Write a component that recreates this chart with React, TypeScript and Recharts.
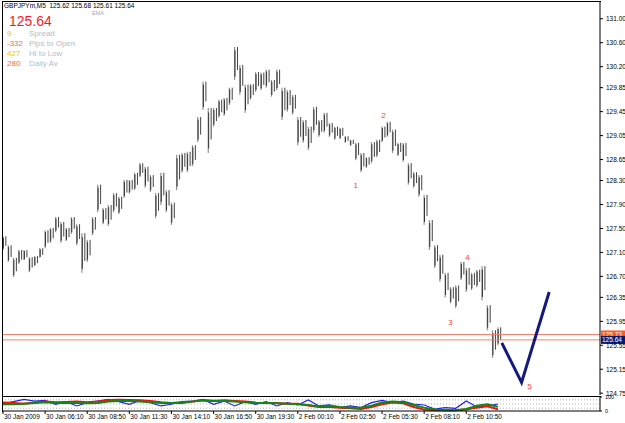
import React from "react";
import {
  ComposedChart,
  Bar,
  Line,
  Scatter,
  XAxis,
  YAxis,
  ReferenceLine,
} from "recharts";

// one plotted bar per 4 M5 bars
const BAR_STEP = 4;
const barHigh = [
  127.37, 127.22, 127.01, 127.14, 127.14, 127.02, 127.04, 127.17, 127.47, 127.51,
  127.69, 127.61, 127.51, 127.69, 127.57, 127.42, 127.31, 127.69, 128.23, 127.84,
  127.89, 128.09, 128.03, 128.31, 128.31, 128.43, 128.59, 128.53, 128.39, 128.09,
  128.43, 128.14, 127.93, 128.73, 128.76, 128.78, 128.89, 129.36, 129.95, 129.51,
  129.51, 129.65, 129.68, 129.85, 130.53, 130.23, 129.9, 129.91, 130.11, 130.1,
  130.15, 129.98, 130.15, 129.85, 129.81, 129.73, 129.36, 129.31, 129.2, 129.53,
  129.31, 129.43, 129.26, 129.2, 129.18, 129.04, 128.98, 128.93, 128.76, 128.69,
  128.94, 128.98, 129.2, 129.28, 129.15, 128.93, 128.93, 128.59, 128.44, 128.39,
  128.06, 127.64, 127.22, 127.06, 126.76, 126.52, 126.55, 126.94, 126.84, 126.76,
  126.81, 126.87, 126.22, 125.8, 125.85,
];
const barLow = [
  127.14, 126.94, 126.69, 126.91, 126.97, 126.77, 126.87, 127.01, 127.17, 127.26,
  127.44, 127.26, 127.29, 127.41, 127.22, 126.76, 126.94, 127.39, 127.77, 127.57,
  127.54, 127.77, 127.74, 128.01, 128.08, 128.14, 128.36, 128.18, 128.11, 127.67,
  127.89, 127.77, 127.56, 128.14, 128.43, 128.44, 128.54, 128.94, 129.48, 128.76,
  129.2, 129.35, 129.38, 129.56, 129.98, 129.73, 129.43, 129.65, 129.78, 129.81,
  129.85, 129.7, 129.81, 129.31, 129.45, 129.4, 128.89, 128.93, 128.81, 129.1,
  129.03, 129.1, 129.03, 128.98, 128.99, 128.93, 128.88, 128.64, 128.44, 128.51,
  128.59, 128.69, 128.94, 129.03, 128.76, 128.71, 128.61, 128.23, 128.18, 128.03,
  127.56, 127.14, 126.84, 126.61, 126.35, 126.25, 126.17, 126.64, 126.44, 126.47,
  126.52, 126.3, 125.8, 125.34, 125.55,
];

const priceTicks = [
  124.75, 125.15, 125.55, 125.95, 126.35, 126.7, 127.1, 127.5, 127.9, 128.3,
  128.65, 129.05, 129.45, 129.85, 130.2, 130.6, 131.0,
];

const timeTicks = [0, 32, 64, 96, 128, 160, 192, 224, 256, 288, 320, 352];
const timeLabels = [
  "30 Jan 2009", "30 Jan 06:10", "30 Jan 08:50", "30 Jan 11:30",
  "30 Jan 14:10", "30 Jan 16:50", "30 Jan 19:30", "2 Feb 00:10",
  "2 Feb 02:50", "2 Feb 05:30", "2 Feb 08:10", "2 Feb 10:50",
];

// projected wave 5
const waveIdx = [379, 394, 415];
const wavePrice = [125.59, 124.93, 126.44];

const waveLabels = ["1", "2", "3", "4", "5"];
const waveLabelIdx = [268, 289, 340, 353, 400];
const waveLabelPrice = [128.23, 129.4, 125.94, 127.02, 124.87];

const askPrice = 125.73;
const bidPrice = 125.64;

// stochastic pane, one point per 8 M5 bars
const STOCH_STEP = 8;
const stochMain = [
  52, 67, 83, 71, 76, 48, 67, 36, 60, 71, 83, 67, 48, 76, 60, 36, 48, 67, 71, 83,
  48, 71, 36, 67, 48, 67, 36, 60, 43, 79, 36, 43, 24, 36, 24, 60, 76, 60, 71, 50,
  43, 14, 24, 19, 71, 29, 36, 50,
];
const stochSignal = [
  60, 57, 52, 60, 67, 62, 64, 67, 62, 67, 79, 81, 79, 76, 71, 62, 57, 57, 67, 76,
  71, 76, 71, 67, 60, 57, 57, 52, 52, 40, 29, 29, 24, 19, 14, 29, 48, 60, 55, 29,
  10, 5, 5, 5, 10, 24, 33, 12,
];
const stochSlow = [
  48, 48, 52, 57, 62, 57, 57, 57, 55, 57, 67, 71, 71, 67, 62, 57, 57, 62, 67, 76,
  74, 71, 67, 62, 57, 57, 55, 52, 48, 42, 33, 38, 29, 24, 24, 38, 60, 67, 62, 43,
  24, 10, 5, 5, 14, 38, 48, 30,
];

const X_MAX = 453.6;
const FONT = "'Liberation Sans', Arial, sans-serif";

const bars = barHigh.map((h, i) => ({ idx: i * BAR_STEP, range: [barLow[i], h] }));
const wave = waveIdx.map((idx, i) => ({ idx, price: wavePrice[i] }));
const labelPoints = waveLabels.map((t, i) => ({
  idx: waveLabelIdx[i],
  price: waveLabelPrice[i],
  text: t,
}));
const stoch = stochMain.map((k, i) => ({
  idx: i * STOCH_STEP,
  k,
  d: stochSignal[i],
  s: stochSlow[i],
}));

const BarShape = (props: any) => {
  const { x, y, width, height } = props;
  const h = Math.max(Math.abs(height), 1);
  const top = height < 0 ? y + height : y;
  return (
    <g>
      <rect x={x} y={top} width={width} height={h} fill="#8f8f8f" />
      <rect x={x + 0.5} y={top + h * 0.1} width={1} height={h * 0.8} fill="#333" />
      <rect x={x + 3} y={top} width={1} height={h * 0.7} fill="#444" />
    </g>
  );
};

const WaveText = (props: any) => {
  const { cx, cy, payload } = props;
  return (
    <text
      x={cx}
      y={cy + 3}
      textAnchor="middle"
      fontSize={8}
      fontFamily={FONT}
      fill="#ff3b3b"
    >
      {payload.text}
    </text>
  );
};

const PriceTick = (props: any) => {
  const { x, y, payload } = props;
  return (
    <text x={x + 1} y={y + 2.5} fontSize={6.5} fontFamily={FONT} fill="#000">
      {payload.value.toFixed(2)}
    </text>
  );
};

const LevelTick = (props: any) => {
  const { x, y, payload } = props;
  return (
    <text x={x + 1} y={y + 2} fontSize={5.5} fontFamily={FONT} fill="#000">
      {String(payload.value)}
    </text>
  );
};

const TimeTick = (props: any) => {
  const { x, y, payload } = props;
  const i = timeTicks.indexOf(payload.value);
  return (
    <text x={x + 1} y={y + 3} fontSize={6.5} fontFamily={FONT} fill="#000">
      {timeLabels[i]}
    </text>
  );
};

const priceTag = (value: number, bg: string) => (props: any) => {
  const { viewBox } = props;
  const x = viewBox.x + viewBox.width + 1;
  const y = viewBox.y;
  return (
    <g>
      <rect x={x} y={y - 4} width={24} height={8} fill={bg} />
      <text x={x + 1} y={y + 2.5} fontSize={6.5} fontFamily={FONT} fill="#fff">
        {value.toFixed(2)}
      </text>
    </g>
  );
};

const infoRows = [
  { num: "9", label: "Spread", color: "#f2c200" },
  { num: "-332", label: "Pips to Open", color: "#ff6a3a" },
  { num: "427", label: "Hi to Low", color: "#f2c200" },
  { num: "280", label: "Daily Av", color: "#ff6a3a" },
];

export default function App() {
  return (
    <div
      style={{
        position: "absolute",
        left: 0,
        top: 0,
        width: 625,
        height: 423,
        background: "#fff",
        fontFamily: FONT,
      }}
    >
      <ComposedChart
        width={625}
        height={397}
        data={bars}
        margin={{ top: 2, right: 0, bottom: 2, left: 3 }}
      >
        <XAxis
          dataKey="idx"
          type="number"
          domain={[0, X_MAX]}
          allowDataOverflow
          hide
        />
        <YAxis
          dataKey="price"
          orientation="right"
          width={25}
          domain={[124.72, 131.28]}
          allowDataOverflow
          ticks={priceTicks}
          interval={0}
          tick={<PriceTick />}
          tickSize={3}
          axisLine={{ stroke: "#000" }}
          tickLine={{ stroke: "#000" }}
        />
        <Bar
          dataKey="range"
          barSize={6}
          shape={<BarShape />}
          isAnimationActive={false}
        />
        <ReferenceLine
          y={askPrice}
          stroke="#f4826c"
          strokeWidth={1}
          label={priceTag(askPrice, "#ff5a1f")}
        />
        <ReferenceLine
          y={bidPrice}
          stroke="#f4826c"
          strokeWidth={1}
          label={priceTag(bidPrice, "#0a1a6e")}
        />
        <Scatter
          data={wave}
          line={{ stroke: "#141a7a", strokeWidth: 3 }}
          shape={() => null}
          isAnimationActive={false}
        />
        <Scatter
          data={labelPoints}
          shape={<WaveText />}
          isAnimationActive={false}
        />
      </ComposedChart>

      <div style={{ position: "absolute", top: 395, left: 0 }}>
        <ComposedChart
          width={625}
          height={28}
          data={stoch}
          margin={{ top: 2, right: 0, bottom: 0, left: 3 }}
        >
          <XAxis
            dataKey="idx"
            type="number"
            domain={[0, X_MAX]}
            allowDataOverflow
            ticks={timeTicks}
            interval={0}
            tick={<TimeTick />}
            tickSize={3}
            height={12}
            axisLine={{ stroke: "#000" }}
            tickLine={{ stroke: "#000" }}
          />
          <YAxis
            orientation="right"
            width={25}
            domain={[0, 100]}
            ticks={[0, 100]}
            interval={0}
            tick={<LevelTick />}
            tickSize={2}
            axisLine={{ stroke: "#000" }}
            tickLine={{ stroke: "#000" }}
          />
          <ReferenceLine y={80} stroke="#b0b0b0" strokeDasharray="1 2" />
          <ReferenceLine y={50} stroke="#b0b0b0" strokeDasharray="1 2" />
          <ReferenceLine y={20} stroke="#b0b0b0" strokeDasharray="1 2" />
          <Line
            dataKey="k"
            stroke="#2222ee"
            strokeWidth={1.2}
            dot={false}
            isAnimationActive={false}
          />
          <Line
            dataKey="d"
            stroke="#ee1111"
            strokeWidth={2}
            dot={false}
            isAnimationActive={false}
          />
          <Line
            dataKey="s"
            stroke="#118811"
            strokeWidth={2}
            dot={false}
            isAnimationActive={false}
          />
        </ComposedChart>
      </div>

      {/* pane frames */}
      <div
        style={{
          position: "absolute",
          left: 2,
          top: 1,
          width: 598,
          height: 394,
          borderLeft: "1px solid #000",
          borderTop: "1px solid #000",
          pointerEvents: "none",
        }}
      />
      <div
        style={{
          position: "absolute",
          left: 2,
          top: 396,
          width: 598,
          height: 15,
          borderLeft: "1px solid #000",
          borderTop: "1px solid #000",
          pointerEvents: "none",
        }}
      />

      {/* header */}
      <div
        style={{
          position: "absolute",
          left: 4,
          top: 2,
          fontSize: 6.5,
          color: "#000",
          whiteSpace: "pre",
          lineHeight: "8px",
        }}
      >
        {"GBPJPYm,M5  125.62 125.68 125.61 125.64"}
      </div>
      <div
        style={{
          position: "absolute",
          left: 92,
          top: 10,
          fontSize: 5.5,
          color: "#9aa6bd",
          lineHeight: "7px",
        }}
      >
        EMA
      </div>
      <div
        style={{
          position: "absolute",
          left: 9,
          top: 13,
          fontSize: 14,
          color: "#ff1a1a",
          lineHeight: "17px",
        }}
      >
        125.64
      </div>
      {infoRows.map((r, i) => (
        <div
          key={r.label}
          style={{
            position: "absolute",
            left: 7,
            top: 29 + i * 10,
            fontSize: 8,
            lineHeight: "9px",
            whiteSpace: "pre",
          }}
        >
          <span style={{ color: r.color }}>{r.num}</span>
          <span
            style={{ position: "absolute", left: 22, color: "#b4bccc" }}
          >
            {r.label}
          </span>
        </div>
      ))}
    </div>
  );
}
